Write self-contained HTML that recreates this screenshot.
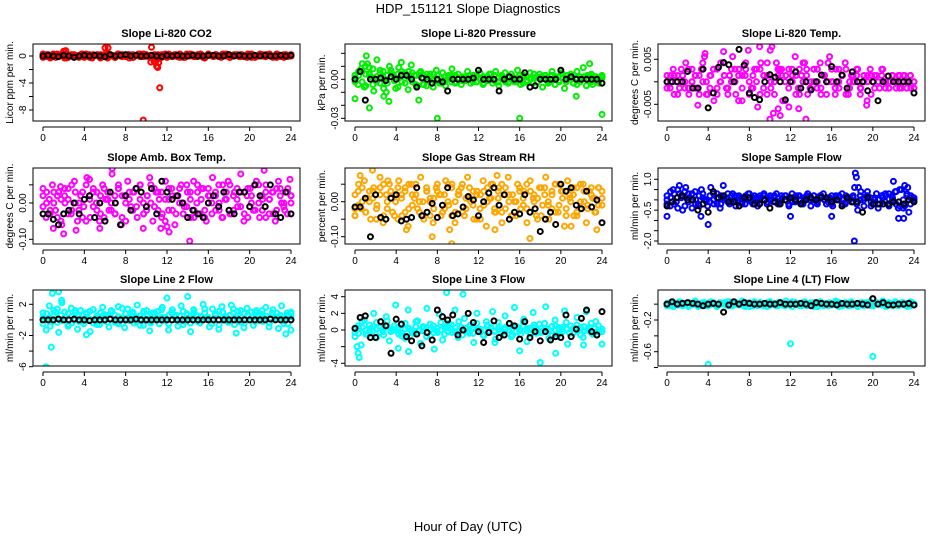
<!DOCTYPE html>
<html><head><meta charset="utf-8">
<style>
html,body{margin:0;padding:0;background:#fff;}
svg{display:block;font-family:"Liberation Sans",sans-serif;}
</style></head>
<body>
<svg id="chart" width="936" height="540" viewBox="0 0 936 540" xmlns="http://www.w3.org/2000/svg">
<text x="468" y="13" font-size="13" text-anchor="middle">HDP_151121  Slope Diagnostics</text>
<text x="468" y="531" font-size="13" text-anchor="middle">Hour of Day (UTC)</text>
</svg>
<script>
const xTicks=[0,4,8,12,16,20,24];
// Panel 1 CO2
const co2Colored=[0.1,-0.1,0.2,0,0.3,-0.2,0.1,0.2,0.7,-0.3,0.1,0,0.2,-0.1,0.1,0.3,-0.2,0,0.2,-0.3,0.1,0.2,-0.1,0,1.2,-0.3,0.2,0.1,-0.2,0.3,0,0.1,-0.1,0.2,0,-0.2,0.1,0.3,-0.1,0,0.2,-0.1,1.3,-0.8,-1.5,-0.3,0.2,0.1,-0.2,0,0.1,0.2,-0.1,0.3,0,-0.2,0.1,0,0.2,-0.1,0.1,0.3,-0.2,0,0.2,0.1,-0.1,0.2,0,-0.2,0.1,0.3,-0.1,0,0.2,0.1,-0.1,0.2,0,-0.2,0.1,0.2,-0.1,0,0.3,0.1,-0.1,0.2,0,-0.2,0.1,0.2,-0.1,0,0.2,0.1,0];
const co2Colored2=[-0.2,0.2,0,-0.1,0.3,0.1,-0.3,0.2,0,0.1,-0.2,0.3,0,-0.1,0.2,0.1,-0.3,0.2,0,0.1,-0.2,0.3,-0.1,0,0.2,-0.2,0.1,0.3,-0.1,0,-0.9,0.2,0,-0.2,0.1,0.3,-0.1,0,0.2,-0.2,0.1,0.3,0,-0.1,0.2,-0.3,0.1,0,0.2,-0.1,0.3,0,-0.2,0.1,0.2,-0.1,0,0.3,-0.2,0.1,0,0.2,-0.1,0.3,0,-0.2,0.1,0.2,-0.1,0];
const co2Colored3=[0.3,0,-0.3,0.2,-0.1,0.1,0.3,-0.2,0.2,0,-0.1,0.2,0.3,-0.2,0,0.1,0.2,-0.1,0.3,0,-0.2,0.1,0.2,0,-0.3,0.2,0.1,-0.1,0.3,0,0.1,-0.2,0.2,0,0.3,-0.1,0.1,0.2,-0.2,0,0.3,0.1,-0.1,0.2,0,-0.2,0.3,0.1,0,-0.1,0.2,0.3,-0.2,0,0.1,0.2,-0.1,0,0.3,-0.2,0.1,0,0.2,0.1,-0.1,0.3,0,-0.2,0.1,0.2];
const co2Outliers=[[9.7,-9.5],[11.3,-4.7],[11.1,-1.7],[6.3,1.2],[2.2,0.8],[11.2,-1.0],[11.0,-0.6]];
const co2Black=[0,0.1,0,-0.1,0.1,0,-0.2,0,0.1,0,0.1,0,-0.1,0.2,0,0.1,0.2,0,0.1,0,0,0.1,0,-0.1,0.1,0,0.1,0,0,0.1,0,0,0.1,0.1,0,0,0.2,0,0.1,0,0,0.1,0,0.1,0,0,0.1,0,0.1];
// Panel 2 Pressure
const presColored=[0.003,-0.004,0.008,-0.006,0.012,0.002,-0.009,0.015,-0.003,0.006,-0.01,0.01,0.004,-0.007,0.009,-0.002,0.005,-0.008,0.011,0.003,-0.005,0.006,-0.004,0.004,0.002,-0.006,0.007,-0.003,0.005,-0.005,0.003,0.008,-0.002,0.004,-0.004,0.002,0.006,-0.003,0.003,-0.002,0.005,-0.004,0.001,0.004,-0.003,0.006,-0.005,0.002,0.005,-0.003,0.004,-0.002,0.007,-0.004,0.003,-0.002,0.005,-0.003,0.002,0.004,-0.006,0.003,-0.002,0.006,-0.004,0.002,0.005,-0.007,0.003,0.004,-0.003,0.006,-0.002,0.009,-0.005,0.003,-0.004,0.002,-0.003,0.001];
const presColored2=[0.001,0.006,-0.002,0.004,0.009,-0.004,0.002,0.007,0.001,-0.003,0.005,0.002,-0.006,0.004,0.001,0.006,-0.002,0.003,0.005,-0.004,0.002,0.004,-0.001,0.003,0.001,-0.002,0.002,0.003,-0.003,0.001,0.002,-0.001,0.003,-0.002,0.002,0.001,-0.003,0.002,0.004,-0.001,0.001,0.003,-0.002,0.002,0.001,-0.002,0.003,0.002,-0.001,0.001,0.004,-0.002,0.002,0.001,-0.003,0.003,0.002,-0.001,0.004,-0.002,0.001,0.003,-0.004,0.002,0.001,0.003,-0.002,0.002,0.001,0.003];
const presColored3=[-0.002,0.003,0.006,-0.005,0.004,0.008,-0.002,0.005,-0.007,0.003,0.007,-0.001,0.004,0.006,-0.003,0.002,0.005,-0.004,0.003,0.001,-0.005,0.002,0.004,0.0,-0.003,0.002,0.001,-0.002,0.003,0.0,-0.001,0.002,0.0,0.003,-0.002,0.0,0.002,-0.001,0.0,0.003,-0.002,0.001,0.0,-0.002,0.002,0.0,0.001,-0.003,0.002,0.0,0.001,-0.002,0.0,0.003,-0.001,0.0,0.002,-0.002,0.001,0.0,0.002,-0.003,0.001,0.0,0.002,-0.001,0.004,0.0,-0.002,0.002];
const presOutliers=[[1.6,0.034],[1.1,0.018],[0.0,-0.015],[1.4,-0.022],[3.3,-0.017],[8,-0.03],[16,-0.03],[24,-0.027],[22.8,0.012],[21.5,-0.013],[4.5,0.013],[6.2,-0.016],[0.7,0.012],[2.8,-0.013],[1.0,0.01],[0.5,0.006]];
const presBlack=[0,0.006,-0.016,0,0,0.001,-0.001,0.002,0,0.003,0.003,0,-0.006,0.001,0,-0.003,0,-0.002,-0.009,0,0,0,0,0.001,0.007,0,0,0,-0.009,0,0.002,0,0,0.005,-0.006,-0.005,0,0,0,0,0.007,0,0.002,0,0,0,0,0,-0.003];
// Panel 3 Temp
const tempColored=[0.0014,-0.0014,0.0028,0,-0.0014,0.0014,0.0042,-0.0028,0,0.0014,-0.0014,0.0028,0.0056,-0.0028,0.0014,-0.0042,0.0028,0,0.0042,-0.0014,0.0014,0.0056,-0.0028,0.0028,-0.0042,0.0014,0.0070,-0.0014,0.0028,-0.0056,0.0042,0.0014,-0.0028,0.0070,-0.0070,0.0042,0.0028,-0.0042,0.0014,-0.0056,0.0028,0.0056,-0.0014,0.0014,0.0042,-0.0028,0,0.0028,-0.0014,0.0042,0.0014,-0.0028,0.0056,0,0.0028,-0.0014,0.0014,0.0042,-0.0028,0.0014,0,0.0028,-0.0014,0.0014,-0.0042,0.0028,0,0.0014,-0.0014,0.0028,0,-0.0014,0.0014,0,0.0014,-0.0014,0.0014,0,-0.0014,0];
const tempColored2=[-0.0014,0,0.0014,-0.0028,0.0028,0,-0.0014,0.0028,0.0014,-0.0028,0.0042,0,-0.0014,0.0028,-0.0028,0.0042,0.0014,-0.0014,0,0.0028,-0.0042,0.0014,0.0042,0,-0.0014,0.0028,-0.0028,0.0014,0.0042,-0.0014,0,0.0028,0.0014,-0.0042,0.0028,0,0.0014,-0.0028,0.0042,0.0028,-0.0014,0,0.0028,-0.0028,0.0014,0.0042,0,-0.0014,0.0028,0.0014,-0.0028,0,0.0014,0.0028,-0.0014,0,0.0014,-0.0028,0.0014,0,0.0028,-0.0014,0,0.0014,-0.0014,0.0014,0,-0.0014,0.0014,0];
const tempColored3=[0,0.0014,-0.0028,0.0014,0,-0.0014,0.0028,0,-0.0014,0.0014,0,-0.0028,0.0014,0.0028,-0.0014,0,0.0014,-0.0028,0.0028,0,0.0014,-0.0014,0.0028,-0.0028,0.0014,0,0.0028,-0.0014,0.0014,0,-0.0028,0.0014,0.0028,0,-0.0014,0.0014,-0.0028,0.0028,0,0.0014,-0.0014,0.0028,0,-0.0014,0.0014,0,0.0028,-0.0028,0,0.0014,0.0028,-0.0014,0,0.0014,-0.0028,0.0014,0,0.0014,-0.0014,0,0.0014,0,-0.0014,0.0014,0,-0.0014,0.0014,0,0.0014,-0.0014];
const tempOutliers=[[10,-0.0083],[13.5,-0.0083],[9,0.0078],[10.2,0.0078],[3.7,0.0063],[5.5,0.0067],[11,-0.0075],[3,-0.0052],[19.4,-0.0052],[10.8,-0.006],[12.8,-0.006]];
const tempBlack=[0,0,0,0,0.0023,-0.0014,-0.0014,0.0028,-0.0058,-0.0025,0.0032,0.0043,0.0038,0,0.0072,0.0037,-0.0025,-0.0035,-0.0040,0,0.0016,0.0010,0,-0.0040,0,0.0022,-0.0014,0,-0.0018,0,0.0015,0,0.0034,0,0.0015,-0.0014,0.0022,0,0,-0.0020,0,-0.0042,0,0.0013,0,0,0,0,-0.0025];
// Panel 4 Amb box temp
const ambColored=[0.02,-0.04,0.01,0.05,-0.02,0.03,-0.06,0.00,0.04,-0.03,0.06,-0.05,0.02,-0.01,0.07,-0.04,0.03,0.00,-0.05,0.05,0.01,-0.02,0.08,-0.03,0.04,-0.06,0.02,0.06,-0.01,0.03,-0.04,0.05,0.00,-0.02,0.07,-0.05,0.03,0.01,-0.03,0.06,-0.02,0.04,-0.06,0.02,0.05,-0.01,0.03,-0.04,0.06,0.00,-0.03,0.04,-0.05,0.02,0.07,-0.02,0.05,-0.04,0.01,0.06,-0.03,0.03,-0.01,0.08,-0.05,0.02,0.04,-0.02,0.06,-0.04,0.01,0.05,-0.03,0.03,-0.05,0.06,0.00,-0.02,0.04,0.02];
const ambColored2=[-0.01,0.03,-0.03,0.00,0.02,-0.05,0.04,0.01,-0.02,0.03,0.00,-0.04,0.05,0.02,-0.01,0.03,-0.03,0.04,0.01,-0.02,0.02,0.05,-0.04,0.00,0.03,-0.02,0.04,0.01,-0.03,0.02,0.05,-0.01,0.03,-0.04,0.01,0.04,-0.02,0.02,0.00,-0.03,0.05,0.01,-0.02,0.03,0.04,-0.04,0.02,0.00,0.03,-0.02,0.05,0.01,-0.03,0.02,0.04,-0.01,0.03,-0.04,0.02,0.05,0.00,-0.02,0.03,0.01,-0.03,0.04,0.02,-0.01,0.03,0.00];
const ambColored3=[0.04,0.00,-0.02,0.03,-0.04,0.01,0.02,-0.03,0.05,0.00,-0.02,0.03,-0.05,0.01,0.04,-0.02,0.02,-0.04,0.03,0.00,-0.03,0.04,0.02,-0.05,0.01,0.03,-0.01,0.05,-0.03,0.02,0.00,0.04,-0.02,0.03,-0.05,0.01,0.02,-0.03,0.04,0.00,-0.01,0.03,-0.04,0.05,0.01,-0.02,0.04,-0.03,0.02,0.00,-0.04,0.03,0.05,-0.02,0.01,0.03,-0.03,0.04,0.00,-0.02,0.05,0.02,-0.04,0.01,0.03,-0.02,0.04,0.00,-0.03,0.02];
const ambOutliers=[[6.7,0.095],[2,-0.085],[12.2,-0.08],[14.2,-0.105],[12,-0.065],[21.4,0.09],[23.9,0.065],[1,-0.07],[3.2,-0.075],[5.5,-0.07],[11.4,-0.07],[9.7,-0.07],[4.5,0.065],[1.7,0.045]];
const ambBlack=[-0.03,-0.03,-0.045,-0.06,-0.03,-0.02,0.00,-0.03,0.01,0.02,-0.04,0.00,-0.05,0.03,0.00,-0.06,0.02,-0.02,0.04,0.03,-0.01,0.04,-0.03,0.06,0.03,0.01,0.02,0.00,-0.04,-0.02,-0.03,-0.04,0.00,0.02,-0.01,0.03,-0.02,-0.03,0.03,0.03,-0.01,0.05,0.02,-0.01,0.05,-0.03,-0.04,0.03,-0.03];
// Panel 5 Gas stream RH
const rhColored=[-0.04,0.03,-0.02,0.06,0.01,-0.05,0.04,-0.01,0.07,-0.06,0.02,0.05,-0.03,0.00,0.06,-0.04,0.03,-0.07,0.05,0.01,-0.02,0.07,-0.05,0.03,0.00,-0.06,0.04,0.02,-0.03,0.06,-0.01,0.05,-0.06,0.02,0.04,-0.04,0.07,0.00,-0.05,0.03,-0.02,0.06,-0.07,0.01,0.05,-0.03,0.04,-0.06,0.02,0.07,-0.04,0.00,0.05,-0.02,0.03,-0.06,0.06,0.01,-0.04,0.04,-0.01,0.07,-0.05,0.02,0.05,-0.03,0.03,-0.07,0.06,0.00,-0.04,0.04,-0.02,0.05,-0.06,0.03,0.01,-0.03,0.04,-0.01];
const rhColored2=[0.02,-0.01,0.04,-0.03,0.00,0.03,-0.05,0.02,0.05,-0.02,0.01,-0.04,0.04,0.02,-0.03,0.05,-0.01,0.02,0.00,-0.04,0.03,0.01,-0.02,0.05,-0.04,0.02,0.00,0.04,-0.03,0.02,0.05,-0.02,0.01,0.03,-0.05,0.02,-0.01,0.04,0.01,-0.03,0.03,0.05,-0.02,0.00,0.02,-0.04,0.04,0.01,-0.02,0.03,0.00,-0.05,0.04,0.02,-0.01,0.03,-0.03,0.05,0.01,-0.02,0.02,0.04,-0.04,0.00,0.03,-0.01,0.02,-0.03,0.04,0.01];
const rhColored3=[-0.02,0.05,0.00,-0.03,0.03,0.01,-0.02,0.04,-0.04,0.00,0.03,0.02,-0.05,0.01,0.04,-0.02,0.02,0.05,-0.03,0.00,0.04,-0.04,0.01,0.03,0.02,-0.02,0.05,-0.04,0.00,0.03,-0.03,0.01,0.04,-0.01,0.02,-0.05,0.03,0.00,0.05,-0.02,0.01,-0.03,0.04,0.02,-0.04,0.00,0.03,-0.01,0.05,-0.03,0.02,0.01,-0.04,0.04,0.00,-0.02,0.05,-0.01,0.03,-0.04,0.01,0.02,-0.03,0.05,0.00,-0.02,0.04,0.01,-0.01,0.03];
const rhOutliers=[[1.7,0.09],[12.1,0.12],[9.4,-0.12],[7.5,-0.1],[17,-0.105],[5,-0.08],[9.2,-0.08],[13.6,-0.08],[23.5,-0.08],[0.5,0.075],[13.8,0.075],[0,-0.04],[3.2,0.06],[21,-0.07]];
const rhBlack=[-0.015,-0.015,0.01,-0.1,0.02,-0.045,-0.05,0.01,0.02,-0.055,-0.05,-0.045,0.04,-0.04,-0.03,-0.005,-0.045,-0.01,0.04,-0.04,-0.035,-0.015,0.015,0.005,-0.04,0.0,0.025,0.04,-0.01,0.02,-0.05,-0.03,-0.035,0.02,-0.03,-0.02,-0.085,-0.05,-0.03,-0.065,0.05,0.03,0.04,-0.01,-0.02,0.03,-0.015,0.005,-0.06];
// Panel 6 Sample flow
const flowColored=[0.2,-0.3,0.5,-0.1,0.3,-0.5,0.6,0.1,-0.4,0.4,-0.2,0.5,0.0,-0.3,0.6,-0.2,0.3,-0.4,0.7,0.1,-0.2,0.3,-0.3,0.2,0.1,-0.2,0.3,-0.1,0.2,-0.3,0.1,0.3,-0.2,0.2,-0.1,0.3,-0.2,0.1,0.2,-0.3,0.3,-0.1,0.2,-0.2,0.1,0.3,-0.3,0.2,-0.1,0.2,0.3,-0.2,0.1,-0.3,0.2,0.0,0.3,-0.2,0.1,-0.1,0.6,-0.5,0.4,-0.3,0.2,0.1,-0.2,0.3,-0.2,0.1,0.2,-0.3,0.2,0.4,-0.4,0.5,-0.3,0.6,0.2,0.0];
const flowColored2=[0.0,0.4,-0.2,0.5,0.1,-0.3,0.3,0.0,-0.2,0.2,0.1,-0.1,0.2,0.0,-0.2,0.2,0.1,-0.1,0.2,0.0,0.1,-0.2,0.2,0.0,0.1,-0.1,0.2,0.0,-0.2,0.1,0.2,-0.1,0.0,0.2,-0.2,0.1,0.0,0.2,-0.1,0.1,0.0,0.2,-0.2,0.1,0.0,-0.1,0.2,0.1,0.0,-0.2,0.2,0.0,0.1,-0.1,0.2,0.0,0.4,-0.3,0.1,0.0,0.2,-0.1,0.3,0.0,-0.2,0.5,-0.4,0.3,0.1,0.0];
const flowColored3=[-0.2,0.1,0.3,-0.4,0.2,0.4,-0.1,0.3,0.0,-0.3,0.3,0.0,-0.1,0.3,0.1,-0.2,0.0,0.3,-0.1,0.2,0.0,-0.1,0.1,0.3,-0.2,0.1,0.0,0.2,-0.1,0.0,0.1,-0.2,0.2,0.0,0.1,-0.1,0.2,0.0,-0.2,0.2,0.1,0.0,-0.1,0.2,0.0,0.1,-0.2,0.1,0.2,0.0,-0.1,0.1,0.2,-0.2,0.0,0.1,0.2,-0.1,0.0,-0.4,0.2,0.3,-0.2,0.1,0.4,-0.3,0.0,0.2,-0.2,0.1];
const flowOutliers=[[18.3,1.3],[18.4,1.1],[22,0.9],[18.2,-2.0],[0,-0.8],[4,-1.2],[12,-0.8],[16,-0.8],[23,-0.9],[22.5,-0.9],[23.5,-0.6],[1.2,0.7],[23.1,0.7],[3.3,-0.8],[18.6,0.6]];
const flowBlack=[-0.3,-0.1,0.1,0.2,0,0,-0.5,-0.2,-0.6,0.4,0.1,0.2,-0.1,-0.1,-0.3,0.1,0.1,-0.2,-0.2,0,-0.4,-0.1,-0.2,0,0.1,0,-0.2,0,0.1,0,0.1,0.1,-0.1,0,-0.3,0.1,-0.1,-0.1,-0.6,0.1,-0.2,-0.2,-0.2,-0.2,-0.1,-0.1,-0.2,0.0,-0.1];
// Panel 7 Line 2 flow
const l2Colored=[0.4,-1.3,1.8,-0.2,1.0,-1.6,2.2,0.3,-0.8,1.5,0.0,-1.2,1.2,-0.5,0.8,-1.5,1.3,0.2,-0.6,1.6,0.5,-0.9,1.1,-0.3,1.7,0.2,-1.0,1.4,0.6,-0.4,1.9,0.1,-0.7,1.2,-1.4,0.9,0.3,-0.5,1.6,0.0,-1.3,1.0,0.4,-0.8,1.8,-0.2,0.7,-1.5,1.3,0.5,-0.4,2.0,0.1,-0.9,1.4,0.6,-1.2,1.7,0.2,-0.3,1.9,-0.6,1.1,0.3,-1.0,1.5,0.0,-0.7,1.2,0.6,-0.2,1.6,-0.9,0.9,0.4,-1.1,1.8,0.1,-0.5,1.0];
const l2Colored2=[-0.5,0.8,0.2,1.2,-0.3,0.6,1.0,-0.6,0.4,0.9,-0.2,0.7,0.3,1.1,-0.4,0.5,0.9,-0.1,0.6,1.2,0.0,0.4,-0.5,0.8,0.2,1.0,-0.2,0.5,0.9,0.1,-0.4,0.7,1.1,0.3,-0.1,0.6,1.3,0.0,0.5,-0.6,0.8,0.2,1.2,-0.2,0.4,0.9,0.1,-0.5,0.7,1.1,0.3,-0.1,0.6,1.4,0.2,-0.3,0.8,0.5,1.0,-0.2,0.4,1.2,0.1,-0.4,0.7,0.9,0.3,-0.1,0.6,0.8];
const l2Colored3=[0.9,0.2,-0.8,0.5,1.4,-0.1,0.3,0.8,-0.4,1.2,0.5,-0.2,0.9,0.1,1.3,-0.6,0.4,0.7,-0.3,1.0,0.6,-0.5,1.5,0.2,-0.1,0.8,0.4,-0.7,1.1,0.5,-0.2,0.9,0.0,1.3,0.3,-0.5,0.8,0.6,-0.2,1.1,0.2,-0.4,0.9,0.5,-0.1,1.4,0.3,0.0,0.8,-0.6,1.0,0.4,-0.2,0.9,0.1,1.2,-0.4,0.6,0.3,1.0,-0.1,0.7,0.5,-0.3,1.3,0.2,0.6,-0.5,0.9,0.4];
const l2Outliers=[[0.3,-6],[0.8,-3.5],[0.9,3.4],[1.5,3.6],[12,2.8],[14,3.0],[24,-1.3],[1.8,2.5],[23.5,-1.8],[4.2,-1.9],[18.7,-1.7]];
const l2Black=[0,0,0,0.1,0,0,0.1,0,0,-0.1,0,0,0,0.1,0,0,0,0,0.1,0,0,0,0,0,0,0,0,0,0,0,0,0,0,0,0,0,0,0,0,0,0,0,0,0,0.1,0,0,0,0];
// Panel 8 Line 3 flow
const l3Colored=[-0.3,0.5,-1.8,1.2,-0.6,0.2,2.0,-0.9,0.4,-0.2,1.6,-1.3,0.1,3.0,-0.5,0.7,-1.0,2.4,0.0,-0.4,1.1,-1.6,0.3,2.6,-0.7,0.5,-0.1,1.9,-1.2,0.2,0.8,-0.3,2.4,-0.9,0.3,1.4,-0.2,0.6,-1.5,2.0,0.1,-0.6,1.0,-0.1,2.2,-1.1,0.4,-0.3,1.7,0.0,-0.8,2.7,0.3,-0.5,1.3,-1.4,0.2,2.1,-0.4,0.7,-0.2,2.8,-1.0,0.4,1.2,-0.6,0.1,2.3,-1.7,0.5,-0.3,1.5,0.0,-0.9,2.2,0.3,-0.5,1.0,-0.2,-1.7];
const l3Colored2=[0.1,-0.4,0.3,0.0,-0.2,0.4,0.1,-0.3,0.2,0.5,-0.1,0.0,0.3,-0.4,0.1,0.2,-0.2,0.4,0.0,-0.1,0.3,0.1,-0.3,0.2,0.0,0.4,-0.2,0.1,0.3,-0.1,0.0,0.2,-0.4,0.3,0.1,-0.2,0.0,0.4,0.2,-0.1,0.1,-0.3,0.3,0.0,0.2,-0.2,0.1,0.4,-0.1,0.0,0.3,-0.3,0.2,0.1,-0.1,0.4,0.0,-0.2,0.3,0.1,-0.4,0.2,0.0,0.3,-0.1,0.1,-0.3,0.2,0.0,-0.2];
const l3Colored3=[-0.8,0.2,1.0,-0.5,0.6,-0.1,0.9,0.3,-0.6,1.1,-0.2,0.5,0.0,-0.7,0.8,0.2,-0.4,1.0,-0.1,0.4,-0.8,0.7,0.1,-0.3,0.9,-0.5,0.3,0.6,-0.2,1.0,-0.6,0.2,0.5,-0.4,0.8,0.0,-0.7,0.6,0.3,-0.2,0.9,-0.4,0.1,0.7,-0.6,0.4,-0.1,1.0,0.2,-0.5,0.6,0.0,-0.3,0.8,0.1,-0.7,0.5,0.3,-0.2,0.9,-0.4,0.2,0.6,-0.6,0.4,0.0,0.8,-0.3,0.5,0.1];
const l3Outliers=[[0.2,-2.0],[0.4,-3.3],[0.3,-2.8],[8.9,4.5],[10.5,4.3],[18,-3.9],[16,-2.5],[19.5,-2.8],[4.2,-2.2],[5.2,-2.6],[7.7,-2.3],[13.6,-1.5],[22.2,-1.8]];
const l3Black=[0.2,1.5,1.7,-0.9,-0.9,1.0,0.5,-2.8,1.3,0.7,-0.8,-1.3,-0.5,-1.9,-0.3,-1.2,2.4,1.6,1.2,1.8,-0.6,0.0,2.0,0.9,-0.2,-1.5,-0.3,1.1,-0.9,-0.6,0.8,0.5,-1.1,1.0,-0.9,-0.2,-1.3,-0.2,-1.2,-0.8,-0.9,1.8,-0.8,0.1,1.4,2.4,-0.2,-0.6,2.2];
// Panel 9 Line 4 (LT) flow
const l4Colored=[-0.01,0.02,-0.03,0.01,0.03,-0.02,0.0,0.02,-0.01,0.04,-0.03,0.01,0.02,-0.02,0.03,0.0,-0.03,0.02,0.01,-0.01,0.03,-0.02,0.02,0.0,0.04,-0.03,0.01,-0.01,0.03,-0.02,0.02,0.0,-0.03,0.03,0.01,-0.02,0.02,-0.01,0.04,0.0,-0.03,0.02,0.01,-0.02,0.03,-0.01,0.02,-0.03,0.01,0.03,-0.02,0.0,0.02,-0.01,0.04,-0.03,0.01,0.02,-0.02,0.03,0.0,-0.03,0.02,0.01,-0.01,0.03,-0.02,0.02,0.0,0.04,-0.03,0.01,-0.01,0.03,-0.02,0.02,0.0,-0.03,0.03,-0.01];
const l4Colored2=[0.01,-0.02,0.0,0.02,-0.01,0.01,-0.03,0.0,0.02,-0.02,0.01,0.0,-0.01,0.02,-0.02,0.01,0.0,0.03,-0.02,0.0,0.01,-0.01,0.02,-0.03,0.0,0.01,0.02,-0.02,0.0,0.01,-0.01,0.02,0.0,-0.02,0.01,0.03,-0.01,0.0,0.02,-0.02,0.01,0.0,-0.03,0.02,0.0,0.01,-0.01,0.02,0.0,-0.02,0.01,0.02,-0.01,0.0,0.01,-0.02,0.02,0.0,-0.01,0.01,0.0,-0.02,0.02,0.01,-0.01,0.0,0.02,-0.02,0.01,0.0];
const l4Colored3=[-0.02,0.0,0.01,-0.01,0.02,0.0,-0.02,0.01,0.0,-0.01,0.02,-0.02,0.0,0.01,-0.01,0.0,0.02,-0.02,0.01,0.0,-0.01,0.01,0.0,0.02,-0.02,0.0,-0.01,0.01,0.02,-0.01,0.0,-0.02,0.01,0.0,-0.01,0.02,0.0,-0.02,0.01,0.0,-0.01,0.02,0.0,-0.01,0.01,-0.02,0.0,0.01,0.02,-0.01,0.0,-0.02,0.01,0.0,-0.01,0.02,0.0,-0.02,0.01,0.0,-0.01,0.01,0.0,-0.02,0.02,0.0,-0.01,0.01,-0.02,0.0];
const l4Outliers=[[4,-0.76],[12,-0.5],[20,-0.66]];
const l4Black=[0.0,0.03,0.0,0.01,0.02,0.01,0.0,-0.02,0.0,0.01,0.0,-0.1,-0.01,0.03,0.0,0.02,0.01,0.0,0.0,0.01,0.0,0.0,0.02,0.0,0.0,0.0,0.01,0.0,-0.02,0.02,0.01,0.0,0.0,-0.01,0.01,0.0,0.0,0.01,0.0,-0.01,0.07,0.0,0.02,-0.01,-0.01,0.0,0.0,0.01,-0.01];

const cols=[{L:33,R:300,x0:43,x1:291},{L:345,R:612,x0:355,x1:602},{L:658,R:925,x0:667,x1:914}];
const rows=[{T:44,B:121},{T:168,B:244},{T:290,B:366}];
const NS="http://www.w3.org/2000/svg";
const svg=document.getElementById('chart');
function mk(tag,attrs,parent){const e=document.createElementNS(NS,tag);for(const k in attrs)e.setAttribute(k,attrs[k]);(parent||svg).appendChild(e);return e;}

const panels=[
 {id:'co2',title:'Slope Li-820 CO2',ylab:'Licor ppm per min.',r:0,c:0,va:0,pa:56,vb:-8,pb:110,ticks:[0,-2,-4,-6,-8],labels:{'0':'0','-4':'-4','-8':'-8'},color:'#ff0000',cols:[co2Colored,co2Colored2,co2Colored3],out:co2Outliers,blk:co2Black},
 {id:'pressure',title:'Slope Li-820 Pressure',ylab:'kPa per min.',r:0,c:1,va:0,pa:79.3,vb:-0.03,pb:118.3,ticks:[0.02,0.01,0,-0.01,-0.02,-0.03],labels:{'0':'0.00','-0.03':'-0.03'},color:'#00ee00',cols:[presColored,presColored2,presColored3],out:presOutliers,blk:presBlack},
 {id:'temp',title:'Slope Li-820 Temp.',ylab:'degrees C per min.',r:0,c:2,va:0.005,pa:59.3,vb:-0.005,pb:104.3,ticks:[0.005,0,-0.005],labels:{'0.005':'0.005','-0.005':'-0.005'},color:'#ff00ff',cols:[tempColored,tempColored2,tempColored3],out:tempOutliers,blk:tempBlack},
 {id:'amb-box',title:'Slope Amb. Box Temp.',ylab:'degrees C per min.',r:1,c:0,va:0,pa:203,vb:-0.1,pb:239.3,ticks:[0.05,0,-0.05,-0.1],labels:{'0':'0.00','-0.1':'-0.10'},color:'#ff00ff',cols:[ambColored,ambColored2,ambColored3],out:ambOutliers,blk:ambBlack},
 {id:'gas-rh',title:'Slope Gas Stream RH',ylab:'percent per min.',r:1,c:1,va:0,pa:201.7,vb:-0.1,pb:236.7,ticks:[0.05,0,-0.05,-0.1],labels:{'0':'0.00','-0.1':'-0.10'},color:'#ffa500',cols:[rhColored,rhColored2,rhColored3],out:rhOutliers,blk:rhBlack},
 {id:'sample-flow',title:'Slope Sample Flow',ylab:'ml/min per min.',r:1,c:2,va:1,pa:179.3,vb:-2,pb:241,ticks:[1,0.5,0,-0.5,-1,-1.5,-2],labels:{'1':'1.0','-0.5':'-0.5','-2':'-2.0'},color:'#0000ff',cols:[flowColored,flowColored2,flowColored3],out:flowOutliers,blk:flowBlack},
 {id:'line2-flow',title:'Slope Line 2 Flow',ylab:'ml/min per min.',r:2,c:0,va:2,pa:304.3,vb:-6,pb:366.7,ticks:[2,0,-2,-4,-6],labels:{'2':'2','-2':'-2','-6':'-6'},color:'#00ffff',cols:[l2Colored,l2Colored2,l2Colored3],out:l2Outliers,blk:l2Black},
 {id:'line3-flow',title:'Slope Line 3 Flow',ylab:'ml/min per min.',r:2,c:1,va:4,pa:296.7,vb:-4,pb:363.3,ticks:[4,2,0,-2,-4],labels:{'4':'4','2':'2','0':'0','-4':'-4'},color:'#00ffff',cols:[l3Colored,l3Colored2,l3Colored3],out:l3Outliers,blk:l3Black},
 {id:'line4-flow',title:'Slope Line 4 (LT) Flow',ylab:'ml/min per min.',r:2,c:2,va:-0.2,pa:320,vb:-0.6,pb:351.7,ticks:[0,-0.2,-0.4,-0.6,-0.8],labels:{'-0.2':'-0.2','-0.6':'-0.6'},color:'#00ffff',cols:[l4Colored,l4Colored2,l4Colored3],out:l4Outliers,blk:l4Black}
];

panels.forEach(p=>{
 const C=cols[p.c],Rw=rows[p.r];
 const xs=v=>C.x0+(v/24)*(C.x1-C.x0);
 const ys=v=>p.pa+(v-p.va)*(p.pb-p.pa)/(p.vb-p.va);
 const g=mk('g',{});
 
 
 const t=mk('text',{x:(C.L+C.R)/2,y:Rw.T-7,'font-size':11,'font-weight':'bold','text-anchor':'middle'},g);
 t.textContent=p.title;
 
 
 const cp='clip-'+p.id;
 const cl=mk('clipPath',{id:cp},g);
 mk('rect',{x:C.L,y:Rw.T,width:C.R-C.L,height:Rw.B-Rw.T},cl);
 const pts=mk('g',{'clip-path':'url(#'+cp+')',fill:'none','stroke-width':2},g);
 
 
 p.cols.forEach(arr=>{
  arr.forEach((v,i)=>{
   const x=24*i/(arr.length-1);
   const c=mk('circle',{cx:xs(x),cy:ys(v),r:2.5,stroke:p.color},pts);
   
   
  });
 });
 p.out.forEach(d=>{
  const c=mk('circle',{cx:xs(d[0]),cy:ys(d[1]),r:2.5,stroke:p.color},pts);
  
  
 });
 p.blk.forEach((v,i)=>{
  const x=24*i/(p.blk.length-1);
  const c=mk('circle',{cx:xs(x),cy:ys(v),r:2.5,stroke:'#000'},pts);
  
  
 });
 const box=mk('rect',{x:C.L,y:Rw.T,width:C.R-C.L,height:Rw.B-Rw.T,fill:'none',stroke:'#000','stroke-width':1},g);
 
 
 const ax=mk('g',{stroke:'#000','stroke-width':1},g);
 
 
 const ya=Rw.B+6;
 mk('line',{x1:xs(0),x2:xs(24),y1:ya,y2:ya},ax);
 xTicks.forEach(v=>{
  mk('line',{x1:xs(v),x2:xs(v),y1:ya,y2:ya+4},ax);
  const tl=mk('text',{x:xs(v),y:ya+14,'font-size':10,'text-anchor':'middle',stroke:'none'},ax);
  tl.textContent=v;
  
  
 });
 const ay=mk('g',{stroke:'#000','stroke-width':1},g);
 
 
 p.ticks.forEach(v=>{
  const y=ys(v);
  mk('line',{x1:C.L-4,x2:C.L,y1:y,y2:y},ay);
  const key=String(v);
  if(p.labels[key]!==undefined){
   const tl=mk('text',{x:0,y:0,'font-size':10,'text-anchor':'middle',stroke:'none',transform:'translate('+(C.L-7)+','+y+') rotate(-90)'},ay);
   tl.textContent=p.labels[key];
   
   
  }
 });
 const yl=mk('text',{x:0,y:0,'font-size':10,'text-anchor':'middle',transform:'translate('+(C.L-20)+','+((Rw.T+Rw.B)/2)+') rotate(-90)'},g);
 yl.textContent=p.ylab;
 
 
});
</script>
</body></html>
